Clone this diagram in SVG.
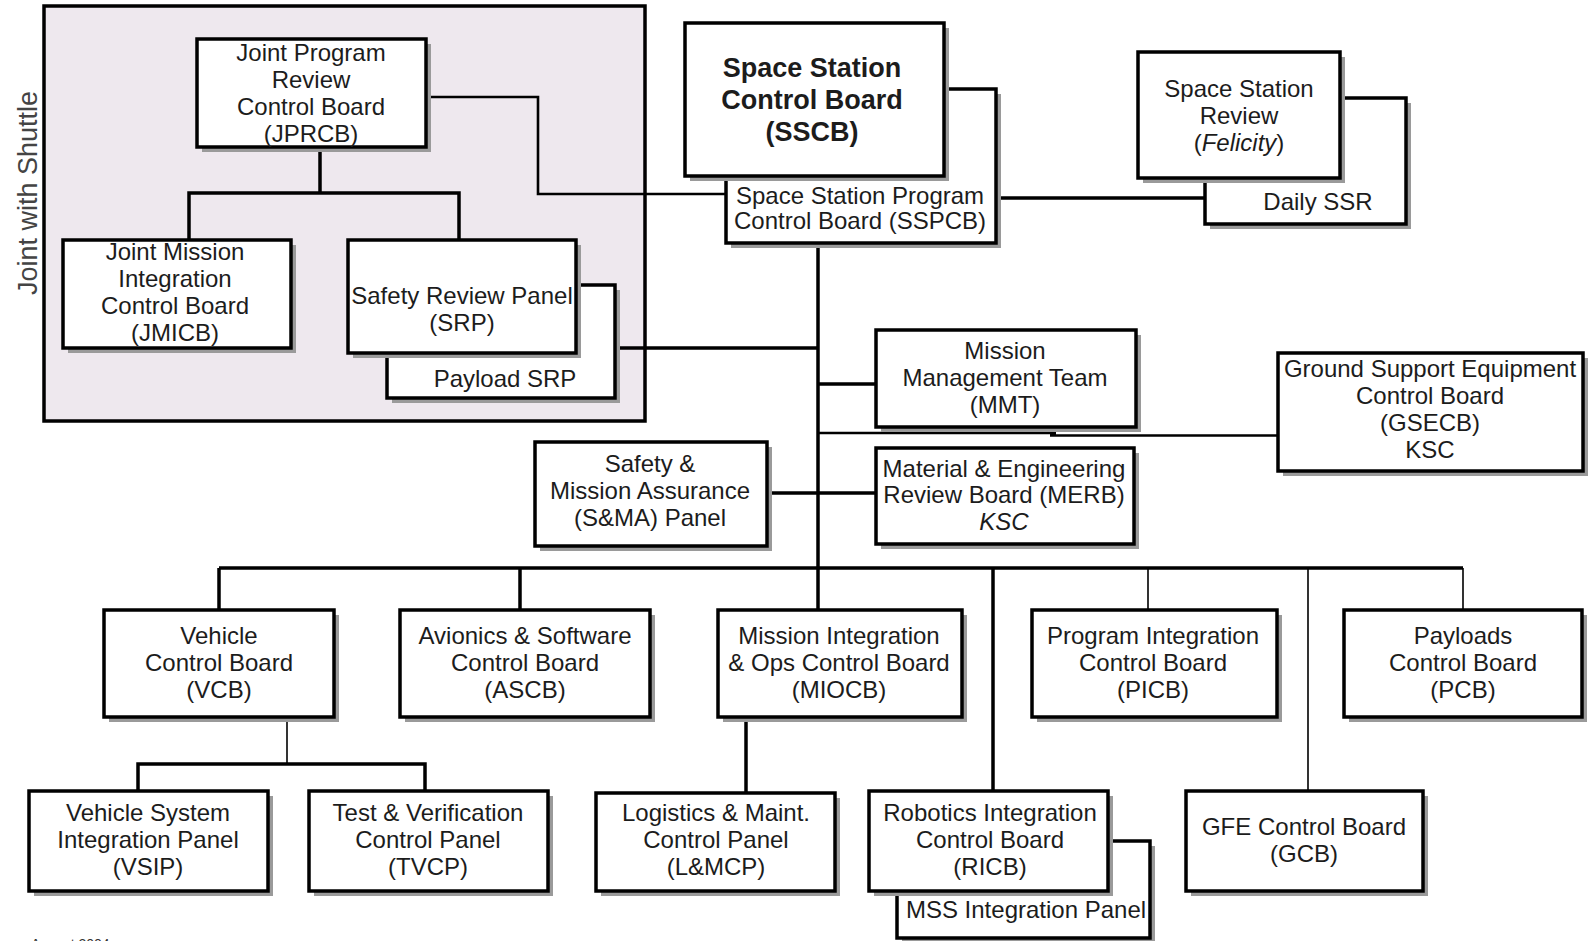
<svg xmlns="http://www.w3.org/2000/svg" width="1595" height="941" viewBox="0 0 1595 941">
<style>
.bx{fill:#fff;stroke:#000;stroke-width:3.5}
.sh{fill:#9a9a9a}
.t{font-family:"Liberation Sans",Arial,sans-serif;font-size:24px;fill:#1c1c1c;text-anchor:middle}
.big{font-size:27px;font-weight:bold}
.c{fill:none;stroke:#000;stroke-width:3.5}
.cm{fill:none;stroke:#000;stroke-width:2.6}
.ct{fill:none;stroke:#000;stroke-width:1.6}
</style>
<rect x="44" y="6" width="601" height="415" fill="#eee8ee" stroke="#000" stroke-width="3.5"/>
<text x="37" y="193" transform="rotate(-90 37 193)" style="font-family:'Liberation Sans',Arial,sans-serif;font-size:27px;fill:#444;text-anchor:middle">Joint with Shuttle</text>

<g id="connectors">
<path class="c" d="M320 148 V193 M189 240 V193 H459 V240"/>
<path class="cm" d="M427 97 H538 V194 H726"/>
<path class="c" d="M997 198 H1205"/>
<path class="c" d="M818 244 V610"/>
<path class="c" d="M616 348 H818"/>
<path class="c" d="M818 384 H876"/>
<path class="cm" d="M818 433 H1056 M1050 435.5 H1278"/>
<path class="c" d="M767 493 H876"/>
<path class="c" d="M219 568 H1463"/>
<path class="c" d="M219 568 V610 M520 568 V610"/>
<path class="c" d="M993 568 V791"/>
<path class="ct" d="M1148 568 V610 M1308 568 V791 M1463 568 V610"/>
<path class="ct" d="M287 717 V764"/>
<path class="c" d="M138 791 V764 H425 V791"/>
<path class="c" d="M746 717 V793"/>
</g>

<g id="jprcb">
<rect class="sh" x="202" y="44" width="229" height="108"/>
<rect class="bx" x="197" y="39" width="229" height="108"/>
<text class="t" x="311" y="61">Joint Program</text>
<text class="t" x="311" y="88">Review</text>
<text class="t" x="311" y="115">Control Board</text>
<text class="t" x="311" y="142">(JPRCB)</text>
</g>

<g id="jmicb">
<rect class="sh" x="68" y="245" width="228" height="108"/>
<rect class="bx" x="63" y="240" width="228" height="108"/>
<text class="t" x="175" y="260">Joint Mission</text>
<text class="t" x="175" y="287">Integration</text>
<text class="t" x="175" y="314">Control Board</text>
<text class="t" x="175" y="341">(JMICB)</text>
</g>

<g id="payload-srp">
<rect class="sh" x="392" y="290" width="228" height="113"/>
<rect class="bx" x="387" y="285" width="228" height="113"/>
<text class="t" x="505" y="387">Payload SRP</text>
</g>

<g id="srp">
<rect class="sh" x="353" y="245" width="228" height="113"/>
<rect class="bx" x="348" y="240" width="228" height="113"/>
<text class="t" x="462" y="304">Safety Review Panel</text>
<text class="t" x="462" y="331">(SRP)</text>
</g>

<g id="sspcb">
<rect class="sh" x="731" y="94" width="270" height="154"/>
<rect class="bx" x="726" y="89" width="270" height="154"/>
<text class="t" x="860" y="204">Space Station Program</text>
<text class="t" x="860" y="229">Control Board (SSPCB)</text>
</g>

<g id="sscb">
<rect class="sh" x="690" y="28" width="259" height="153"/>
<rect class="bx" x="685" y="23" width="259" height="153"/>
<text class="t big" x="812" y="77">Space Station</text>
<text class="t big" x="812" y="109">Control Board</text>
<text class="t big" x="812" y="141">(SSCB)</text>
</g>

<g id="daily-ssr">
<rect class="sh" x="1210" y="103" width="201" height="126"/>
<rect class="bx" x="1205" y="98" width="201" height="126"/>
<text class="t" x="1318" y="210">Daily SSR</text>
</g>

<g id="ssr">
<rect class="sh" x="1143" y="57" width="202" height="126"/>
<rect class="bx" x="1138" y="52" width="202" height="126"/>
<text class="t" x="1239" y="97">Space Station</text>
<text class="t" x="1239" y="124">Review</text>
<text class="t" x="1239" y="151">(<tspan font-style="italic">Felicity</tspan>)</text>
</g>

<g id="mmt">
<rect class="sh" x="881" y="335" width="260" height="97"/>
<rect class="bx" x="876" y="330" width="260" height="97"/>
<text class="t" x="1005" y="359">Mission</text>
<text class="t" x="1005" y="386">Management Team</text>
<text class="t" x="1005" y="413">(MMT)</text>
</g>

<g id="gsecb">
<rect class="sh" x="1283" y="358" width="305" height="118"/>
<rect class="bx" x="1278" y="353" width="305" height="118"/>
<text class="t" x="1430" y="377">Ground Support Equipment</text>
<text class="t" x="1430" y="404">Control Board</text>
<text class="t" x="1430" y="431">(GSECB)</text>
<text class="t" x="1430" y="458">KSC</text>
</g>

<g id="sma">
<rect class="sh" x="540" y="447" width="232" height="104"/>
<rect class="bx" x="535" y="442" width="232" height="104"/>
<text class="t" x="650" y="472">Safety &amp;</text>
<text class="t" x="650" y="499">Mission Assurance</text>
<text class="t" x="650" y="526">(S&amp;MA) Panel</text>
</g>

<g id="merb">
<rect class="sh" x="881" y="453" width="258" height="96"/>
<rect class="bx" x="876" y="448" width="258" height="96"/>
<text class="t" x="1004" y="477">Material &amp; Engineering</text>
<text class="t" x="1004" y="503">Review Board (MERB)</text>
<text class="t" x="1004" y="530" font-style="italic">KSC</text>
</g>

<g id="vcb">
<rect class="sh" x="109" y="615" width="230" height="107"/>
<rect class="bx" x="104" y="610" width="230" height="107"/>
<text class="t" x="219" y="644">Vehicle</text>
<text class="t" x="219" y="671">Control Board</text>
<text class="t" x="219" y="698">(VCB)</text>
</g>

<g id="ascb">
<rect class="sh" x="405" y="615" width="250" height="107"/>
<rect class="bx" x="400" y="610" width="250" height="107"/>
<text class="t" x="525" y="644">Avionics &amp; Software</text>
<text class="t" x="525" y="671">Control Board</text>
<text class="t" x="525" y="698">(ASCB)</text>
</g>

<g id="miocb">
<rect class="sh" x="723" y="615" width="244" height="107"/>
<rect class="bx" x="718" y="610" width="244" height="107"/>
<text class="t" x="839" y="644">Mission Integration</text>
<text class="t" x="839" y="671">&amp; Ops Control Board</text>
<text class="t" x="839" y="698">(MIOCB)</text>
</g>

<g id="picb">
<rect class="sh" x="1037" y="615" width="245" height="107"/>
<rect class="bx" x="1032" y="610" width="245" height="107"/>
<text class="t" x="1153" y="644">Program Integration</text>
<text class="t" x="1153" y="671">Control Board</text>
<text class="t" x="1153" y="698">(PICB)</text>
</g>

<g id="pcb">
<rect class="sh" x="1349" y="615" width="238" height="107"/>
<rect class="bx" x="1344" y="610" width="238" height="107"/>
<text class="t" x="1463" y="644">Payloads</text>
<text class="t" x="1463" y="671">Control Board</text>
<text class="t" x="1463" y="698">(PCB)</text>
</g>

<g id="vsip">
<rect class="sh" x="34" y="796" width="239" height="100"/>
<rect class="bx" x="29" y="791" width="239" height="100"/>
<text class="t" x="148" y="821">Vehicle System</text>
<text class="t" x="148" y="848">Integration Panel</text>
<text class="t" x="148" y="875">(VSIP)</text>
</g>

<g id="tvcp">
<rect class="sh" x="314" y="796" width="239" height="100"/>
<rect class="bx" x="309" y="791" width="239" height="100"/>
<text class="t" x="428" y="821">Test &amp; Verification</text>
<text class="t" x="428" y="848">Control Panel</text>
<text class="t" x="428" y="875">(TVCP)</text>
</g>

<g id="lmcp">
<rect class="sh" x="601" y="798" width="239" height="98"/>
<rect class="bx" x="596" y="793" width="239" height="98"/>
<text class="t" x="716" y="821">Logistics &amp; Maint.</text>
<text class="t" x="716" y="848">Control Panel</text>
<text class="t" x="716" y="875">(L&amp;MCP)</text>
</g>

<g id="mss">
<rect class="sh" x="902" y="846" width="253" height="97"/>
<rect class="bx" x="897" y="841" width="253" height="97"/>
<text class="t" x="1026" y="918">MSS Integration Panel</text>
</g>

<g id="ricb">
<rect class="sh" x="874" y="796" width="239" height="100"/>
<rect class="bx" x="869" y="791" width="239" height="100"/>
<text class="t" x="990" y="821">Robotics Integration</text>
<text class="t" x="990" y="848">Control Board</text>
<text class="t" x="990" y="875">(RICB)</text>
</g>

<g id="gcb">
<rect class="sh" x="1191" y="796" width="237" height="100"/>
<rect class="bx" x="1186" y="791" width="237" height="100"/>
<text class="t" x="1304" y="835">GFE Control Board</text>
<text class="t" x="1304" y="862">(GCB)</text>
</g>

<text x="31" y="949" style="font-family:'Liberation Sans',Arial,sans-serif;font-size:14px;fill:#333">August 2004</text>
</svg>
